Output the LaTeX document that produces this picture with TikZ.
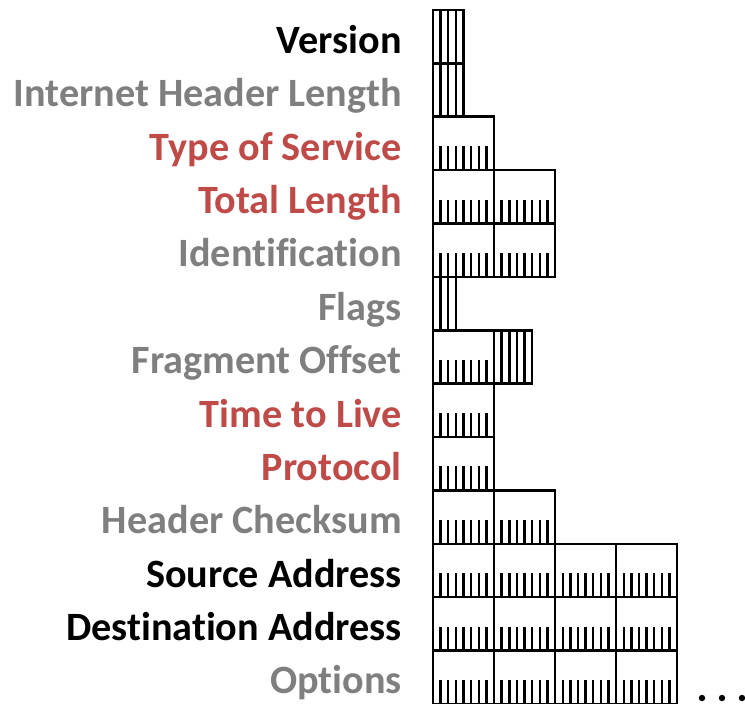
\documentclass[tikz,border=0pt]{standalone}
\usepackage{fontspec}
\setmainfont{Carlito}[Ligatures=NoCommon]
\definecolor{lblgray}{HTML}{7F7F7F}
\definecolor{lblred}{HTML}{BE4B48}
\tikzset{
  cell/.style={draw=black, line width=2.6pt},
  bittick/.style={draw=black, line width=2.4pt},
  lbl/.style={anchor=base east, inner sep=0pt, font=\fontsize{40.2}{40}\selectfont\bfseries},
  dot/.style={fill=black, draw=none}
}
\newcommand\fieldbytes[3]{% #1 row, #2 start bit, #3 number of bytes
  \pgfmathsetmacro\rT{\ty+#1*\rh}
  \pgfmathsetmacro\rB{\rT+\rh}
  \foreach \k in {1,...,#3}{
    \pgfmathsetmacro\xa{\xo+(#2+(\k-1)*8)*\bw}
    \pgfmathsetmacro\xb{\xa+8*\bw}
    \draw[cell] (\xa,\rT) rectangle (\xb,\rB);
    \foreach \j in {1,...,7}{
      \pgfmathsetmacro\xt{\xa+\j*\bw}
      \draw[bittick] (\xt,\rB) -- (\xt,\rB-24);
    }
  }
}
\newcommand\fieldbits[3]{% #1 row, #2 start bit, #3 number of bits
  \pgfmathsetmacro\rT{\ty+#1*\rh}
  \pgfmathsetmacro\rB{\rT+\rh}
  \pgfmathsetmacro\xa{\xo+#2*\bw}
  \pgfmathsetmacro\xb{\xo+(#2+#3)*\bw}
  \draw[cell] (\xa,\rT) rectangle (\xb,\rB);
  \pgfmathtruncatemacro\nm{#3-1}
  \foreach \j in {1,...,\nm}{
    \pgfmathsetmacro\xt{\xa+\j*\bw}
    \draw[bittick] (\xt,\rT) -- (\xt,\rB);
  }
}
\begin{document}
\begin{tikzpicture}[x=1pt,y=-1pt]
\useasboundingbox (0,0) rectangle (745,704);
\def\xo{433}\def\bw{7.63}\def\rh{53.38}\def\ty{10}\def\bl{10}
% fields
\fieldbits{0}{0}{4}
\fieldbits{1}{0}{4}
\fieldbytes{2}{0}{1}
\fieldbytes{3}{0}{2}
\fieldbytes{4}{0}{2}
\fieldbits{5}{0}{3}
\fieldbytes{6}{0}{1}
\fieldbits{6}{8}{5}
\fieldbytes{7}{0}{1}
\fieldbytes{8}{0}{1}
\fieldbytes{9}{0}{2}
\fieldbytes{10}{0}{4}
\fieldbytes{11}{0}{4}
\fieldbytes{12}{0}{4}
% labels
\node[lbl, text=black]    (version) at (402,{\ty+1*\rh-\bl})  {Version};
\node[lbl, text=lblgray]  (ihl)     at (402,{\ty+2*\rh-\bl})  {Internet Header Length};
\node[lbl, text=lblred]   (tos)     at (402,{\ty+3*\rh-\bl})  {Type of Service};
\node[lbl, text=lblred]   (tlen)    at (402,{\ty+4*\rh-\bl})  {Total Length};
\node[lbl, text=lblgray]  (ident)   at (402,{\ty+5*\rh-\bl})  {Identification};
\node[lbl, text=lblgray]  (flags)   at (402,{\ty+6*\rh-\bl})  {Flags};
\node[lbl, text=lblgray]  (frag)    at (402,{\ty+7*\rh-\bl})  {Fragment Offset};
\node[lbl, text=lblred]   (ttl)     at (402,{\ty+8*\rh-\bl})  {Time to Live};
\node[lbl, text=lblred]   (proto)   at (402,{\ty+9*\rh-\bl})  {Protocol};
\node[lbl, text=lblgray]  (csum)    at (402,{\ty+10*\rh-\bl}) {Header Checksum};
\node[lbl, text=black]    (src)     at (402,{\ty+11*\rh-\bl}) {Source Address};
\node[lbl, text=black]    (dst)     at (402,{\ty+12*\rh-\bl}) {Destination Address};
\node[lbl, text=lblgray]  (opts)    at (402,{\ty+13*\rh-\bl}) {Options};
% continuation dots
\fill[dot] (702,698) circle (3.2);
\fill[dot] (722,698) circle (3.2);
\fill[dot] (742,698) circle (3.2);
\end{tikzpicture}
\end{document}
